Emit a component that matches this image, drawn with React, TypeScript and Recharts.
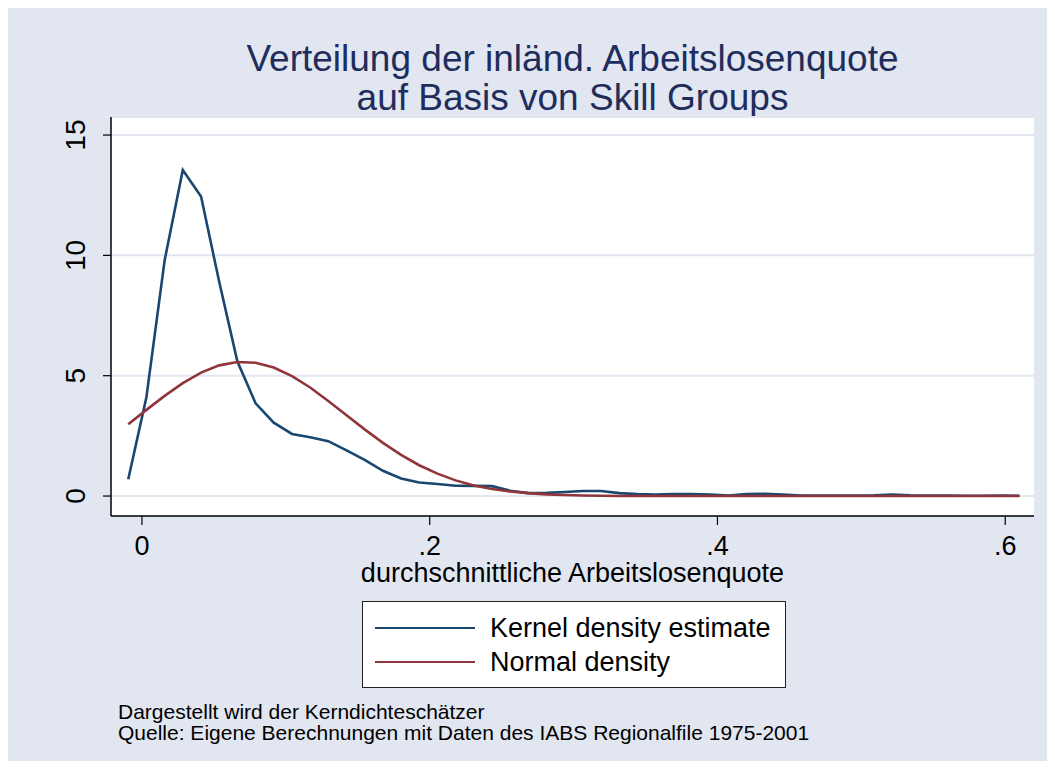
import React from 'react';
import { LineChart, Line, XAxis, YAxis, CartesianGrid, Legend } from 'recharts';

// evaluation points of the density (x) and the two curves
const xPoints = [
  -0.0095, 0.0031, 0.0158, 0.0284, 0.0411, 0.0537, 0.0663, 0.079, 0.0916, 0.1043,
  0.1169, 0.1295, 0.1422, 0.1548, 0.1675, 0.1801, 0.1927, 0.2054, 0.218, 0.2307,
  0.2433, 0.2559, 0.2686, 0.2812, 0.2939, 0.3065, 0.3191, 0.3318, 0.3444, 0.3571,
  0.3697, 0.3823, 0.395, 0.4076, 0.4203, 0.4329, 0.4455, 0.4582, 0.4708, 0.4835,
  0.4961, 0.5087, 0.5214, 0.534, 0.5467, 0.5593, 0.5719, 0.5846, 0.5972, 0.6099,
];
const kernelValues = [
  0.7, 4.1, 9.8, 13.55, 12.45, 8.9, 5.6, 3.85, 3.05, 2.58,
  2.44, 2.28, 1.9, 1.5, 1.05, 0.73, 0.56, 0.5, 0.43, 0.42,
  0.41, 0.22, 0.12, 0.13, 0.17, 0.21, 0.21, 0.12, 0.08, 0.06,
  0.08, 0.08, 0.06, 0.02, 0.08, 0.09, 0.06, 0.02, 0.02, 0.02,
  0.02, 0.03, 0.06, 0.03, 0.02, 0.02, 0.01, 0.01, 0.02, 0.01,
];
const normalValues = [
  2.98, 3.58, 4.16, 4.69, 5.13, 5.43, 5.57, 5.54, 5.34, 4.98,
  4.51, 3.95, 3.36, 2.77, 2.21, 1.71, 1.28, 0.93, 0.65, 0.44,
  0.29, 0.19, 0.12, 0.07, 0.04, 0.02, 0.01, 0, 0, 0,
  0, 0, 0, 0, 0, 0, 0, 0, 0, 0,
  0, 0, 0, 0, 0, 0, 0, 0, 0, 0,
];
const xTicks = [0, 0.2, 0.4, 0.6];
const yTicks = [0, 5, 10, 15];
const seriesNames = ['Kernel density estimate', 'Normal density'];
const titleLines = ['Verteilung der inländ. Arbeitslosenquote', 'auf Basis von Skill Groups'];
const notes = [
  'Dargestellt wird der Kerndichteschätzer',
  'Quelle: Eigene Berechnungen mit Daten des IABS Regionalfile 1975-2001',
];

const data = xPoints.map((x, i) => ({ x, kernel: kernelValues[i], normal: normalValues[i] }));

const FONT = '"Liberation Sans", Arial, sans-serif';
const BG = '#e1e6f0';
const BLUE = '#1a476f';
const RED = '#90353b';

const fmtX = (v: number) => (v === 0 ? '0' : String(v).replace('0.', '.'));

function YTick({ x, y, payload }: any) {
  const tx = x - 16;
  return (
    <text x={tx} y={y} transform={`rotate(-90, ${tx}, ${y})`} textAnchor="middle" fontSize={28} fill="#000" fontFamily={FONT}>
      {payload.value}
    </text>
  );
}

function LegendBox({ payload }: any) {
  return (
    <div style={{ width: 422, height: 85, background: '#fff', border: '1px solid #222', fontFamily: FONT, fontSize: 27, color: '#000' }}>
      {(payload || []).map((entry: any, i: number) => (
        <div key={i} style={{ display: 'flex', alignItems: 'center', height: 34, marginTop: i === 0 ? 9 : 0 }}>
          <div style={{ width: 100, height: 2, background: entry.color, marginLeft: 12, marginRight: 15 }} />
          <span style={{ lineHeight: '34px', whiteSpace: 'nowrap' }}>{entry.value}</span>
        </div>
      ))}
    </div>
  );
}

export default function App() {
  return (
    <div style={{ position: 'relative', width: 1039, height: 753, background: BG, fontFamily: FONT }}>
      <div style={{ position: 'absolute', left: 103, width: 923, top: 31, textAlign: 'center', color: '#1f2d5c', fontSize: 37, lineHeight: '39px' }}>
        {titleLines.map((t) => (
          <div key={t}>{t}</div>
        ))}
      </div>
      <LineChart width={1039} height={753} data={data} margin={{ top: 109, right: 13, left: 43, bottom: 215 }}>
        <CartesianGrid horizontal vertical={false} stroke={BG} strokeWidth={2} fill="#fff" />
        <XAxis
          type="number"
          dataKey="x"
          domain={[-0.0215, 0.62]}
          allowDataOverflow
          ticks={xTicks}
          tickFormatter={fmtX}
          height={30}
          tickSize={9}
          tickMargin={11}
          axisLine={{ stroke: '#000', strokeWidth: 1.5 }}
          tickLine={{ stroke: '#000', strokeWidth: 1.2 }}
          tick={{ fill: '#000', fontSize: 27, fontFamily: FONT }}
          label={{ value: 'durchschnittliche Arbeitslosenquote', position: 'insideBottom', offset: -36, fill: '#000', fontSize: 27, fontFamily: FONT }}
        />
        <YAxis
          type="number"
          domain={[-0.83, 15.75]}
          allowDataOverflow
          ticks={yTicks}
          width={60}
          tickSize={8}
          axisLine={{ stroke: '#000', strokeWidth: 1.5 }}
          tickLine={{ stroke: '#000', strokeWidth: 1.2 }}
          tick={<YTick />}
        />
        <Line type="linear" dataKey="kernel" name={seriesNames[0]} stroke={BLUE} strokeWidth={2.6} dot={false} isAnimationActive={false} />
        <Line type="linear" dataKey="normal" name={seriesNames[1]} stroke={RED} strokeWidth={2.6} dot={false} isAnimationActive={false} />
        <Legend
          layout="horizontal"
          verticalAlign="middle"
          align="center"
          content={<LegendBox />}
          wrapperStyle={{ left: 354, top: 593, width: 424, height: 87 }}
        />
      </LineChart>
      <div style={{ position: 'absolute', left: 110, top: 693, fontSize: 21, lineHeight: '21px', color: '#000' }}>
        {notes.map((n) => (
          <div key={n}>{n}</div>
        ))}
      </div>
    </div>
  );
}
